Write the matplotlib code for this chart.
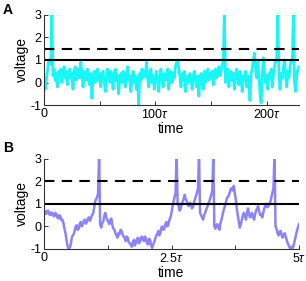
import numpy as np
import matplotlib
matplotlib.use("Agg")
import matplotlib.pyplot as plt

plt.rcParams['font.family'] = ['Liberation Sans', 'DejaVu Sans']
plt.rcParams['mathtext.fontset'] = 'custom'
plt.rcParams['mathtext.rm'] = 'Liberation Sans'
plt.rcParams['mathtext.it'] = 'Liberation Sans:italic'

# Panel A data (time step 1)
a_values = [
    0.2, -0.3, 0.1, 0.5, 0.9, 1.0, 0.8, 3.2, 0.3, 0.6,
    0.1, 0.4, -0.2, 0.5, 0.3, 0.6, 0.0, 0.4, 0.7, 0.2,
    0.5, -0.1, 0.3, 0.6, 0.2, 0.4, -0.3, 0.5, 0.7, 0.1,
    0.3, 0.6, 0.2, 0.9, 0.4, -0.2, 0.3, 0.5, 0.1, 0.6,
    0.2, -0.1, 0.4, -0.7, 0.2, 0.5, 0.0, 0.3, 0.6, 0.1,
    0.4, -0.2, 0.3, 0.5, 0.1, -0.4, 0.2, 0.6, 0.3, 0.0,
    0.5, 0.2, -0.3, 0.4, 0.6, 0.1, 0.3, -0.5, 0.2, 0.4,
    0.0, 0.5, 0.3, -0.2, 0.4, 0.7, 0.1, 0.3, -0.4, 0.2,
    0.5, 0.0, 0.3, -0.3, 0.2, -1.0, 0.4, 0.1, 0.6, 0.2,
    0.5, 0.3, 0.9, 0.2, -0.2, 0.4, 0.6, 0.0, 0.3, -0.3,
    0.2, 0.5, 0.1, -0.4, 0.3, 0.6, 0.2, -0.2, 0.4, 0.1,
    0.3, 0.6, -0.3, 0.2, 0.5, 0.0, 0.4, 0.2, 0.7, 0.9,
    1.0, 0.6, 0.3, -0.2, 0.4, 0.1, 0.5, -0.4, 0.2, 0.3,
    0.0, 0.4, 0.2, -0.3, 0.3, 0.5, 0.1, -0.2, 0.3, -0.6,
    0.1, 0.4, 0.2, -0.3, 0.5, 0.0, 0.3, 0.6, 0.1, 0.4,
    0.2, 0.5, -0.1, 0.3, 0.6, 0.2, 0.4, 0.7, 0.3, 0.5,
    0.8, 0.9, 3.2, 0.0, 0.4, 0.6, -0.2, 0.3, 0.5, 0.1,
    0.4, -0.3, 0.2, 0.6, 0.3, -0.1, 0.5, 0.2, -0.4, 0.3,
    0.1, 0.5, -0.2, 0.3, 0.0, -0.8, 0.4, 0.6, 1.0, 1.3,
    0.6, 0.2, 0.9, 0.4, -0.5, -0.9, 0.2, 1.1, 0.5, 0.0,
    0.3, -0.3, 0.4, 0.2, 0.6, -0.2, 0.3, 0.7, 0.9, 1.0,
    3.2, 0.3, -0.3, 0.4, 0.2, 0.6, 1.0, 0.3, -0.2, 0.5,
    0.2, 0.7, 1.0, 0.9, 3.2, 0.0, -0.4, 0.3, 0.6, 0.7,
]
a_time = list(range(len(a_values)))
a_threshold = 1.0
a_dashed = 1.5
a_xticks = [0, 50, 100, 150, 200]
a_xticklabels = ['0', '', r'$100\tau$', '', r'$200\tau$']

# Panel B data (time step 0.02 tau)
b_values = [
    0.75, 0.6, 0.55, 0.68, 0.7, 0.55, 0.5, 0.62, 0.6, 0.48,
    0.45, 0.6, 0.55, 0.4, 0.35, 0.5, 0.45, 0.28, 0.3, 0.15,
    -0.1, -0.3, -0.6, -0.85, -1.0, -0.95, -0.85, -0.55, -0.4, -0.35,
    -0.2, 0.0, 0.05, -0.15, -0.1, 0.12, 0.2, 0.0, 0.1, 0.25,
    0.3, 0.12, 0.2, 0.35, 0.4, 0.25, 0.35, 0.5, 0.55, 0.8,
    1.1, 1.2, 1.3, 1.45, 3.2, 0.1, -0.05, 0.15, 0.2, 0.45,
    0.6, 0.4, 0.3, 0.2, 0.1, 0.3, 0.35, 0.05, -0.1, -0.15,
    -0.3, -0.4, -0.5, -0.3, -0.35, -0.15, -0.2, -0.35, -0.45, -0.5,
    -0.65, -0.45, -0.5, -0.7, -0.75, -0.8, -0.9, -0.7, -0.6, -0.85,
    -0.75, -0.55, -0.5, -0.75, -0.7, -0.5, -0.45, -0.6, -0.65, -0.45,
    -0.55, -0.75, -0.8, -0.55, -0.6, -0.85, -0.95, -0.8, -0.7, -0.55,
    -0.4, -0.35, -0.2, -0.4, -0.3, -0.05, 0.0, -0.15, -0.1, 0.1,
    0.2, 0.0, 0.1, 0.3, 0.4, 0.6, 0.9, 1.1, 1.3, 1.5,
    3.2, 1.0, 0.9, 0.7, 0.8, 1.0, 1.1, 1.25, 1.4, 1.2,
    1.1, 0.95, 0.9, 1.05, 1.0, 0.8, 0.85, 1.05, 1.2, 1.35,
    1.5, 1.7, 3.2, 0.6, 0.5, 0.4, 0.3, 0.5, 0.6, 0.75,
    0.85, 1.0, 1.1, 1.25, 1.4, 1.6, 3.2, 0.0, -0.1, 0.05,
    0.1, -0.05, -0.15, 0.15, 0.3, 0.5, 0.7, 0.85, 1.0, 1.2,
    1.3, 1.35, 1.5, 1.65, 1.7, 1.6, 1.8, 1.5, 1.2, 0.8,
    0.5, 0.2, -0.05, 0.1, 0.3, 0.5, 0.6, 0.45, 0.3, 0.6,
    0.8, 0.55, 0.4, 0.5, 0.6, 0.4, 0.3, 0.55, 0.7, 0.8,
    0.9, 0.65, 0.5, 0.55, 0.4, 0.6, 0.8, 0.9, 1.0, 0.85,
    0.9, 1.0, 1.1, 1.3, 1.5, 1.7, 3.2, 0.0, -0.1, -0.3,
    -0.4, -0.25, -0.2, -0.4, -0.5, -0.35, -0.3, -0.45, -0.6, -0.75,
    -0.85, -0.95, -1.0, -0.9, -0.95, -0.8, -0.6, -0.4, -0.2, -0.05,
    0.1,
]
b_time = [i * 0.02 for i in range(len(b_values))]
b_threshold = 1.0
b_dashed = 2.0
b_xticks = [0, 1.25, 2.5, 3.75, 5]
b_xticklabels = ['0', '', r'$2.5\tau$', '', r'$5\tau$']

yticks = [-1, 0, 1, 2, 3]

fig = plt.figure(figsize=(3.06, 2.81), dpi=100)
axA = fig.add_axes([0.144, 0.626, 0.833, 0.321])
axB = fig.add_axes([0.144, 0.114, 0.833, 0.321])


def style(ax, xlim, xticks, xticklabels):
    ax.set_xlim(*xlim)
    ax.set_ylim(-1, 3)
    ax.set_yticks(yticks)
    ax.set_yticklabels([str(y) for y in yticks])
    ax.set_xticks(xticks)
    ax.set_xticklabels(xticklabels)
    for s in ['top', 'right']:
        ax.spines[s].set_visible(False)
    for s in ['left', 'bottom']:
        ax.spines[s].set_linewidth(0.8)
        ax.spines[s].set_color('#333333')
    ax.tick_params(direction='in', length=3, width=0.7, labelsize=9, pad=2,
                   colors='#333333', labelcolor='black')
    ax.set_ylabel('voltage', fontsize=10, labelpad=1)
    ax.set_xlabel('time', fontsize=10, labelpad=1)


axA.plot(a_time, a_values, color='#1af5f5', lw=2.0, clip_on=True)
axA.axhline(a_threshold, color='black', lw=1.5)
axA.axhline(a_dashed, color='black', lw=1.5, dashes=(5, 3.5))
style(axA, (0, 229), a_xticks, a_xticklabels)

axB.plot(b_time, b_values, color='#8c84f5', lw=1.8, clip_on=True)
axB.axhline(b_threshold, color='black', lw=1.5)
axB.axhline(b_dashed, color='black', lw=1.5, dashes=(5, 3.5))
style(axB, (0, 5), b_xticks, b_xticklabels)

fig.text(0.01, 0.965, 'A', fontsize=10, fontweight='bold', va='center')
fig.text(0.01, 0.475, 'B', fontsize=10, fontweight='bold', va='center')

fig.savefig('out.png', dpi=100)
